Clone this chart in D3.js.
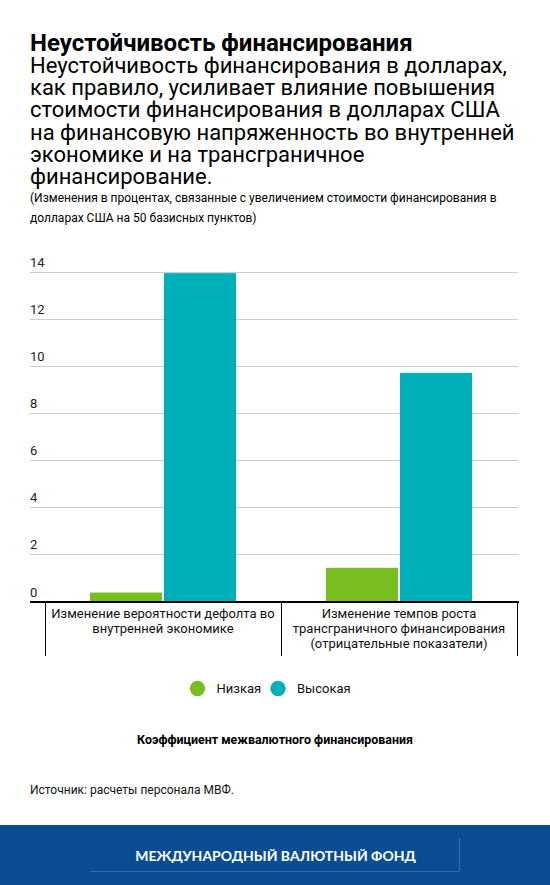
<!DOCTYPE html>
<html>
<head>
<meta charset="utf-8">
<script src="https://cdn.jsdelivr.net/npm/d3@7"></script>
<style>
  html, body { margin: 0; padding: 0; background: #fff; }
  svg { display: block; }
  text { font-family: Roboto, "Noto Sans", sans-serif; }
</style>
</head>
<body>
<svg id="chart" width="550" height="885"></svg>
<script>
const titleText = "Неустойчивость финансирования";
const subtitleLines = [
  "Неустойчивость финансирования в долларах,",
  "как правило, усиливает влияние повышения",
  "стоимости финансирования в долларах США",
  "на финансовую напряженность во внутренней",
  "экономике и на трансграничное",
  "финансирование."
];
const noteLines = [
  "(Изменения в процентах, связанные с увеличением стоимости финансирования в",
  "долларах США на 50 базисных пунктов)"
];
const categories = ["cat1", "cat2"];
const categoryLabels = [
  ["Изменение вероятности дефолта во", "внутренней экономике"],
  ["Изменение темпов роста", "трансграничного финансирования", "(отрицательные показатели)"]
];
const seriesNames = ["Низкая", "Высокая"];
const seriesColors = ["#78be20", "#00b0b9"];
const lowValues = [0.38, 1.43];
const highValues = [13.93, 9.70];
const yTicks = [0, 2, 4, 6, 8, 10, 12, 14];
const legendTitle = "Коэффициент межвалютного финансирования";
const sourceText = "Источник: расчеты персонала МВФ.";
const footerText = "МЕЖДУНАРОДНЫЙ ВАЛЮТНЫЙ ФОНД";

const svg = d3.select("#chart");

// Title block (one text block, lines as tspans)
const head = svg.append("text").attr("x", 30).attr("y", 51).attr("fill", "#000");
head.append("tspan").attr("x", 30).attr("y", 51)
  .attr("font-size", 24).attr("font-weight", 700)
  .text(titleText);
head.selectAll("tspan.sub").data(subtitleLines).join("tspan")
  .attr("class", "sub")
  .attr("x", 30).attr("y", (d, i) => 73 + i * 22.2)
  .attr("font-size", 22)
  .text(d => d);

const note = svg.append("text").attr("x", 30).attr("y", 202).attr("fill", "#000").attr("font-size", 12);
note.selectAll("tspan").data(noteLines).join("tspan")
  .attr("x", 30).attr("y", (d, i) => 202 + i * 20)
  .text(d => d);

// Scales
const y = d3.scaleLinear().domain([0, 14]).range([601.5, 271.5]);
const x0 = d3.scaleBand().domain(categories).range([45, 517]).paddingInner(0).paddingOuter(0);
const x1 = d3.scaleBand().domain(seriesNames).range([45, 191]).paddingInner(2 / 74).paddingOuter(0);

// Gridlines
const grid = svg.append("g");
grid.selectAll("line").data(yTicks.filter(t => t > 0)).join("line")
  .attr("x1", 30).attr("x2", 518)
  .attr("y1", d => Math.round(y(d)) + 0.5).attr("y2", d => Math.round(y(d)) + 0.5)
  .attr("stroke", "#cccccc").attr("stroke-width", 1);
grid.selectAll("text").data(yTicks).join("text")
  .attr("x", 30).attr("y", d => y(d) - 5)
  .attr("font-size", 13).attr("fill", "#222")
  .text(d => d);

// Bars
const data = categories.map((c, i) => ({ cat: c, values: [lowValues[i], highValues[i]] }));
const groups = svg.append("g").selectAll("g").data(data).join("g")
  .attr("transform", d => `translate(${x0(d.cat)},0)`);
groups.selectAll("rect").data(d => d.values.map((v, j) => ({ name: seriesNames[j], v, j })))
  .join("rect")
  .attr("x", d => x1(d.name))
  .attr("width", x1.bandwidth())
  .attr("y", d => y(d.v))
  .attr("height", d => y(0) - y(d.v))
  .attr("fill", d => seriesColors[d.j]);

// X axis line
svg.append("line").attr("x1", 30).attr("x2", 519)
  .attr("y1", y(0) + 0.5).attr("y2", y(0) + 0.5)
  .attr("stroke", "#000").attr("stroke-width", 2);

// Category separators
const edges = [x0.range()[0]].concat(categories.map(c => x0(c) + x0.bandwidth()));
svg.append("g").selectAll("line").data(edges).join("line")
  .attr("x1", d => d + 0.5).attr("x2", d => d + 0.5)
  .attr("y1", y(0)).attr("y2", 656)
  .attr("stroke", "#000").attr("stroke-width", 1);

// Category labels
categories.forEach((c, i) => {
  const t = svg.append("text")
    .attr("text-anchor", "middle")
    .attr("font-size", 13).attr("fill", "#111");
  t.selectAll("tspan").data(categoryLabels[i]).join("tspan")
    .attr("x", x0(c) + x0.bandwidth() / 2)
    .attr("y", (d, k) => 618 + k * 15)
    .text(d => d);
});

// Legend
const legendX = [197.5, 278];
const legend = svg.append("g").selectAll("g").data(seriesNames).join("g")
  .attr("transform", (d, i) => `translate(${legendX[i]},688.5)`);
legend.append("circle").attr("r", 7.7).attr("fill", (d, i) => seriesColors[i]);
legend.append("text").attr("x", 19).attr("y", 4.5)
  .attr("font-size", 13).attr("fill", "#111").text(d => d);

svg.append("text").attr("x", 275).attr("y", 744)
  .attr("text-anchor", "middle").attr("font-size", 12.4).attr("font-weight", 700)
  .attr("fill", "#000").text(legendTitle);

svg.append("text").attr("x", 30).attr("y", 794)
  .attr("font-size", 12).attr("fill", "#111").text(sourceText);

// Footer
svg.append("rect").attr("x", 0).attr("y", 825).attr("width", 550).attr("height", 60)
  .attr("fill", "#0b4d93");
svg.append("line").attr("x1", 90).attr("x2", 459.5).attr("y1", 871.5).attr("y2", 871.5)
  .attr("stroke", "#2f6fb0").attr("stroke-width", 1);
svg.append("line").attr("x1", 459.5).attr("x2", 459.5).attr("y1", 838).attr("y2", 871.5)
  .attr("stroke", "#2f6fb0").attr("stroke-width", 1);
svg.append("text").attr("x", 275.5).attr("y", 861)
  .attr("text-anchor", "middle").attr("font-size", 14).attr("font-weight", 700)
  .style("font-family", "Lato, 'Open Sans', sans-serif")
  .attr("fill", "#fff").text(footerText);
</script>
</body>
</html>
